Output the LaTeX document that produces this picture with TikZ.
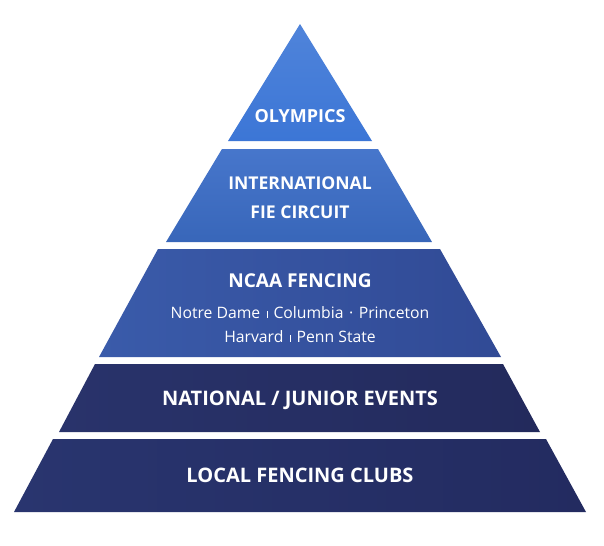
\documentclass[tikz,border=0pt]{standalone}
\usepackage{fontspec}
\setmainfont{Open Sans}
\usepackage{tikz}
\usetikzlibrary{calc}

\definecolor{olyblue}{HTML}{3C76D6}
\definecolor{fieblue}{HTML}{3D6FC9}
\definecolor{ncaablue}{HTML}{3A5BAA}
\definecolor{ncaadeep}{HTML}{314A95}
\definecolor{natnavy}{HTML}{29336B}
\definecolor{natdeep}{HTML}{232A5C}
\definecolor{clubnavy}{HTML}{29356F}
\definecolor{clubdeep}{HTML}{232B60}

\tikzset{
  tiertitle/.style={text=white, font=\bfseries\fontsize{13.5}{16}\selectfont, align=center},
  tierlist/.style={text=white, font=\fontsize{11.8}{14}\selectfont, align=center}
}
\newcommand{\sepbar}{\hspace{0.4em}\raisebox{0.15ex}{\rule{0.5pt}{0.75ex}}\hspace{0.4em}}
\newcommand{\sepdot}{\hspace{0.35em}\textperiodcentered\hspace{0.35em}}

\begin{document}
\begin{tikzpicture}[x=0.75pt, y=-0.75pt]
		%%%%% START %%%%%
		
		\useasboundingbox[fill=white] (0, 0) rectangle (604, 546);
		
		% top tier
		\shade[top color=olyblue!90!white, bottom color=olyblue] (300, 24) -- (372, 141) -- (228, 141) -- cycle;
		
		\shade[top color=fieblue!95!white, bottom color=fieblue!92!black] (222, 149) -- (378, 149) -- (432, 242) -- (166, 242) -- cycle;
		
		\shade[left color=ncaablue, right color=ncaadeep] (158, 249) -- (440, 249) -- (501, 357) -- (99, 357) -- cycle;
		
		\shade[left color=natnavy, right color=natdeep] (95, 364) -- (503, 364) -- (540, 432) -- (59, 432) -- cycle;
		
		% base tier
		\shade[left color=clubnavy, right color=clubdeep] (53, 439) -- (546, 439) -- (586, 512) -- (14, 512) -- cycle;
		
		\node[tiertitle] (olympics) at (300, 116) {OLYMPICS};
		\node[tiertitle, font=\bfseries\fontsize{13.2}{21.75}\selectfont] (fie) at (300, 198) {INTERNATIONAL\\FIE CIRCUIT};
		\node[tiertitle, font=\bfseries\fontsize{14.3}{16}\selectfont] (ncaa) at (300, 281) {NCAA FENCING};
		\node[tierlist] (schoolsa) at (300, 313) {Notre Dame\sepbar Columbia\sepdot Princeton};
		\node[tierlist] (schoolsb) at (300, 337) {Harvard\sepbar Penn State};
		\node[tiertitle, font=\bfseries\fontsize{15}{18}\selectfont] (national) at (300, 400) {NATIONAL / JUNIOR EVENTS};
		\node[tiertitle, font=\bfseries\fontsize{15}{18}\selectfont] (clubs) at (300, 475) {LOCAL FENCING CLUBS};
		
		%%%%% END %%%%%
	\end{tikzpicture}
\end{document}
